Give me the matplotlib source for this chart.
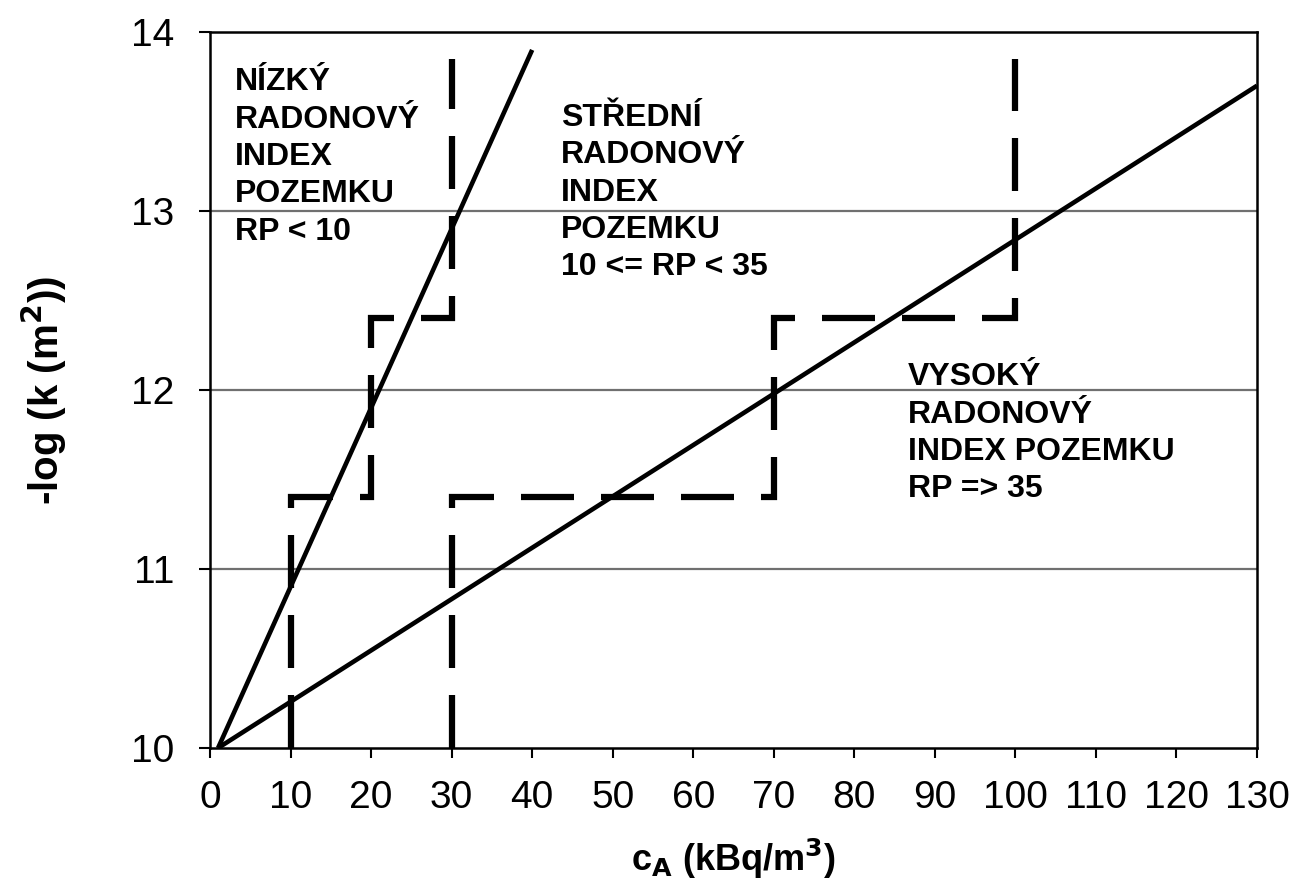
import matplotlib
matplotlib.use("Agg")
import matplotlib.pyplot as plt

plt.rcParams['font.family'] = ['Liberation Sans', 'DejaVu Sans']

# --- data ---
line_low_x = [1, 40]
line_low_y = [10, 13.9]
line_high_x = [1, 130]
line_high_y = [10, 13.7]

bound_low_x = [10, 10, 20, 20, 30, 30]
bound_low_y = [10, 11.4, 11.4, 12.4, 12.4, 13.85]
bound_high_x = [30, 30, 70, 70, 100, 100]
bound_high_y = [10, 11.4, 11.4, 12.4, 12.4, 13.85]

x_ticks = list(range(0, 131, 10))
y_ticks = [10, 11, 12, 13, 14]
grid_y = [11, 12, 13]

label_low = "NÍZKÝ\nRADONOVÝ\nINDEX\nPOZEMKU\nRP < 10"
label_mid = "STŘEDNÍ\nRADONOVÝ\nINDEX\nPOZEMKU\n10 <= RP < 35"
label_high = "VYSOKÝ\nRADONOVÝ\nINDEX POZEMKU\nRP => 35"

fig = plt.figure(figsize=(13.14, 8.88), dpi=100)
ax = fig.add_axes([210/1314, 140/888, (1257-210)/1314, (748-32)/888])

for gy in grid_y:
    ax.axhline(gy, color='#707070', lw=1.6, zorder=1)

ax.plot(line_low_x, line_low_y, color='black', lw=3.3, solid_capstyle='butt', zorder=3)
ax.plot(line_high_x, line_high_y, color='black', lw=3.3, solid_capstyle='butt', zorder=3)

for bx, by in [(bound_low_x, bound_low_y), (bound_high_x, bound_high_y)]:
    ax.plot(bx, by, color='black', lw=4.5, dashes=(8.48, 4.32),
            dash_joinstyle='miter', dash_capstyle='butt', zorder=4)

ax.set_xlim(0, 130)
ax.set_ylim(10, 14)
ax.set_xticks(x_ticks)
ax.set_yticks(y_ticks)
ax.tick_params(axis='both', direction='out', length=7, width=1.5,
               labelsize=28, pad=16, color='black')
ax.tick_params(axis='y', length=8, pad=18)
for s in ax.spines.values():
    s.set_linewidth(1.8)
    s.set_color('black')

ax.set_xlabel(r"c$_\mathbf{A}$ (kBq/m$^\mathbf{3}$)", fontsize=26, fontweight='bold', labelpad=15)
ax.set_ylabel(r"-log (k (m$^\mathbf{2}$))", fontsize=29, fontweight='bold', labelpad=44)

tkw = dict(fontsize=23, fontweight='bold', va='baseline', ha='left', linespacing=1.32, zorder=5)
ax.text(3.1, 12.84, label_low, **tkw)
ax.text(43.6, 12.64, label_mid, **tkw)
ax.text(86.7, 11.40, label_high, **tkw)

fig.savefig("out.png", dpi=100)
